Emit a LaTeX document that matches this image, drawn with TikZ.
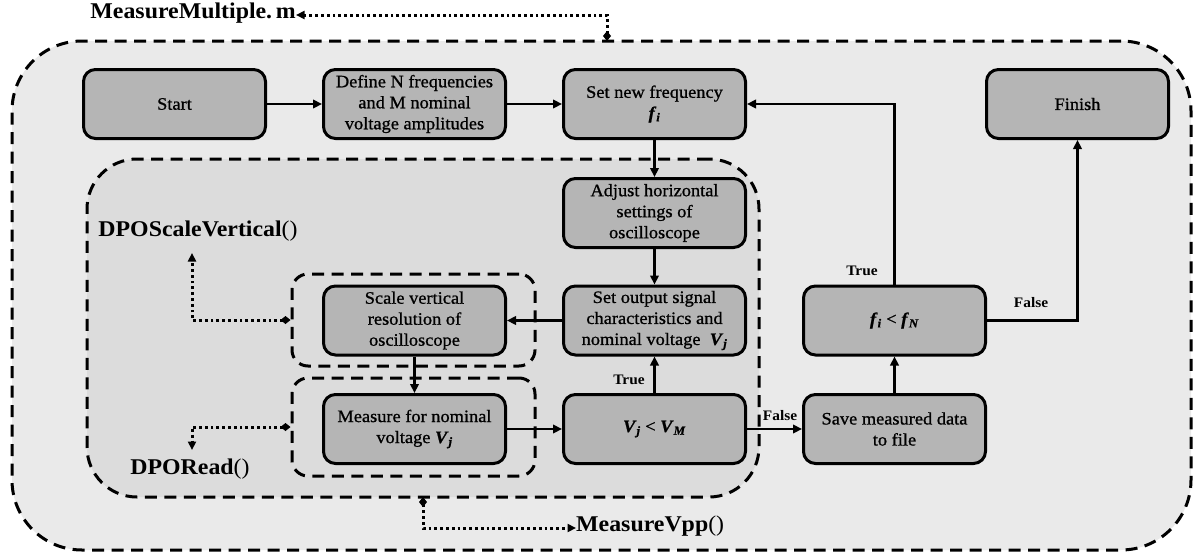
\documentclass[tikz,border=0pt]{standalone}
\usepackage{fontspec}
\setmainfont{Liberation Serif}[FakeStretch=1.06]
\newfontfamily\boxfont{Liberation Serif}[FakeStretch=1.05, FakeBold=0.9]
\usetikzlibrary{arrows.meta,calc}
\definecolor{outerfill}{HTML}{EAEAEA}
\definecolor{innerfill}{HTML}{DCDCDC}
\definecolor{boxgray}{HTML}{B5B5B5}
\newcommand\mv[2]{\textbf{\textit{#1}}\textsubscript{\textbf{\textit{#2}}}}
\begin{document}
\begin{tikzpicture}[x=1pt,y=-1pt,
  box/.style={draw=black, line width=3pt, fill=boxgray, rounded corners=12pt,
    minimum width=182pt, minimum height=69pt, align=center, inner sep=2pt,
    font=\boxfont\fontsize{17.5}{21}\selectfont},
  grp/.style={draw=black, line width=3pt, dash pattern=on 12pt off 7.5pt, inner sep=0pt},
  conn/.style={line width=2.8pt, -{Triangle[length=9pt,width=8.5pt]}},
  dots/.style={line width=3pt, dash pattern=on 2.8pt off 3pt,
    {Diamond[length=10pt,width=8pt]}-{Triangle[length=8.5pt,width=8pt]}},
  lbl/.style={font=\bfseries\fontsize{14.5}{16}\selectfont, inner sep=1pt},
  fn/.style={font=\bfseries\fontsize{22.5}{26}\selectfont, inner sep=0pt, text height=0.7em, text depth=0pt}]
\path[use as bounding box, fill=white] (0,0) rectangle (1203,557);
% groups
\node[grp, fill=outerfill, rounded corners=70pt, minimum width=1179pt, minimum height=509pt] (outer) at (601.5,295.5) {};
\node[grp, fill=innerfill, rounded corners=50pt, minimum width=672pt, minimum height=338pt] (inner) at (423,328) {};
\node[grp, fill=innerfill, rounded corners=16pt, minimum width=243pt, minimum height=92pt] (sgrp) at (413.5,320) {};
\node[grp, fill=innerfill, rounded corners=16pt, minimum width=243pt, minimum height=98pt] (mgrp) at (413.5,427) {};
% boxes
\node[box] (start) at (174.5,104) {Start};
\node[box] (define) at (414.5,104) {Define N frequencies\\and M nominal\\voltage amplitudes};
\node[box] (setf) at (654.5,104) {Set new frequency\\\mv{f}{i}};
\node[box] (finish) at (1077.5,104) {Finish};
\node[box] (adjust) at (654.5,213) {Adjust horizontal\\settings of\\oscilloscope};
\node[box] (setout) at (654.5,320.5) {Set output signal\\characteristics and\\nominal voltage\ \ \mv{V}{j}};
\node[box] (scale) at (414.5,320.5) {Scale vertical\\resolution of\\oscilloscope};
\node[box] (measure) at (414.5,429) {Measure for nominal\\voltage \mv{V}{j}};
\node[box] (vv) at (654.5,429) {\mv{V}{j} \textless{} \mv{V}{M}};
\node[box] (save) at (894.5,429) {Save measured data\\to file};
\node[box] (ff) at (894.5,320.5) {\mv{f}{i} \textless{} \mv{f}{N}};
% connectors
\draw[conn] (start) -- (define);
\draw[conn] (define) -- (setf);
\draw[conn] (setf) -- (adjust);
\draw[conn] (adjust) -- (setout);
\draw[conn] (setout) -- (scale);
\draw[conn] (scale) -- (measure);
\draw[conn] (measure) -- (vv);
\draw[conn] (vv) -- (setout);
\draw[conn] (vv) -- (save);
\draw[conn] (save) -- (ff);
\draw[conn] (ff.north) |- (setf.east);
\draw[conn] (ff.east) -| (finish.south);
\node[lbl] (t1) at (629,380) {True};
\node[lbl] (f1) at (780,416) {False};
\node[lbl] (t2) at (862,271) {True};
\node[lbl] (f2) at (1031,303) {False};
% function labels
\node[fn, anchor=east] (mm) at (296,15) {MeasureMultiple.\,m};
\node[fn] (dsv) at (198,233) {DPOScaleVertical\textmd{()}};
\node[fn] (dr) at (190,471) {DPORead\textmd{()}};
\node[fn, anchor=west] (mvpp) at (576,528) {MeasureVpp\textmd{()}};
\coordinate (d1) at (607,41);
\coordinate (dsvtip) at (192,253);
\coordinate (drtip) at (192,450);
\coordinate (d2) at (423,497);
\draw[dots] (d1) |- (mm.east);
\draw[dots] (sgrp.west) -| (dsvtip);
\draw[dots] (mgrp.west) -| (drtip);
\draw[dots] (d2) |- (mvpp.west);
\end{tikzpicture}
\end{document}
